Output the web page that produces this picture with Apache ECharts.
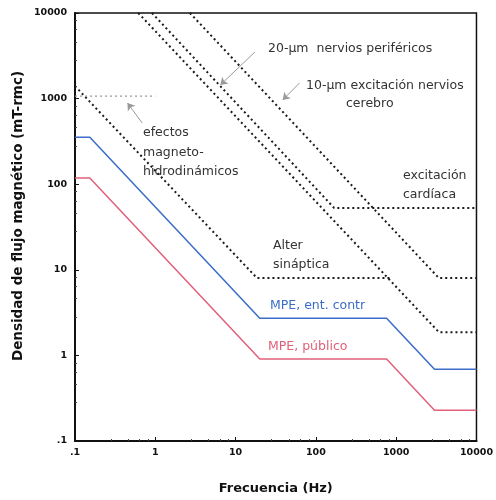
<!DOCTYPE html>
<html><head><meta charset="utf-8">
<script src="https://cdn.jsdelivr.net/npm/echarts@6/dist/echarts.min.js"></script>
<style>html,body{margin:0;padding:0;background:#fff}#c{width:496px;height:500px}</style>
</head><body><div id="c"></div>
<script>
// Tick labels
const xTickLabels = ['.1', '1', '10', '100', '1000', '10000'];
const yTickLabels = ['.1', '1', '10', '100', '1000', '10000'];
const tickValues = [0.1, 1, 10, 100, 1000, 10000];

// MPE, público (mT) vs frequency (Hz)
const mpePublicoFreq = [0.1, 0.153, 20, 759, 3000, 10000];
const mpePublicoB = [118, 118, 0.905, 0.905, 0.229, 0.229];

// MPE, entorno controlado
const mpeControlFreq = [0.1, 0.153, 20, 759, 3000, 10000];
const mpeControlB = [353, 353, 2.71, 2.71, 0.687, 0.687];

// Alteración sináptica
const alterFreq = [0.1, 18.5, 870];
const alterB = [1400, 8, 8];

// 20-µm nervios periféricos / excitación cardíaca
const cardiacaFreq = [0.91, 169, 10000];
const cardiacaB = [10000, 52.7, 52.7];

// lower nerve line
const nervioBajoFreq = [0.614, 3400, 10000];
const nervioBajoB = [10000, 1.87, 1.87];

// 10-µm excitación nervios cerebro
const nervioCerebroFreq = [2.7, 3400, 10000];
const nervioCerebroB = [10000, 8, 8];

// efectos magneto-hidrodinámicos
const mhdFreq = [0.1, 1];
const mhdB = [1070, 1070];

// annotation arrows (data coordinates: [freq, B])
const arrowFrom = [[0.687, 519], [17.4, 3500], [62.5, 1520]];
const arrowTo = [[0.45, 889], [6.46, 1443], [38.6, 964]];

const pairs = (f, b) => f.map((v, i) => [v, b[i]]);
const labelMap = (v) => { const i = tickValues.findIndex(t => Math.abs(Math.log10(t) - Math.log10(v)) < 1e-6); return i >= 0 ? xTickLabels[i] : ''; };
const labelMapY = (v) => { const i = tickValues.findIndex(t => Math.abs(Math.log10(t) - Math.log10(v)) < 1e-6); return i >= 0 ? yTickLabels[i] : ''; };

const dotted = { color: '#1a1a1a', width: 2, type: [2, 3] };
const txt = (t, x, y, color, extra) => ({ type: 'text', x, y, style: Object.assign({ text: t, fill: color || '#333', font: '12.5px "DejaVu Sans"', textVerticalAlign: 'middle' }, extra || {}) });

const chart = echarts.init(document.getElementById('c'), null, { renderer: 'canvas' });
chart.setOption({
  animation: false,
  backgroundColor: '#fff',
  grid: { left: 75, right: 15, top: 13, bottom: 59, show: true, borderColor: '#111', borderWidth: 1.5, backgroundColor: 'transparent' },
  xAxis: {
    type: 'log', logBase: 10, min: 0.1, max: 10000,
    axisLine: { show: true, lineStyle: { color: '#111', width: 2 } },
    axisTick: { show: true, inside: true, length: 4, lineStyle: { color: '#111' } },
    minorTick: { show: true, splitNumber: 5, length: 2, lineStyle: { color: '#444' } },
    splitLine: { show: false },
    axisLabel: { formatter: labelMap, margin: 7, color: '#111', fontFamily: 'DejaVu Sans', fontWeight: 'bold', fontSize: 9.5 },
    name: 'Frecuencia (Hz)', nameLocation: 'middle', nameGap: 41,
    nameTextStyle: { fontFamily: 'DejaVu Sans', fontWeight: 'bold', fontSize: 13, color: '#111' }
  },
  yAxis: {
    type: 'log', logBase: 10, min: 0.1, max: 10000,
    axisLine: { show: true, lineStyle: { color: '#111', width: 2 } },
    axisTick: { show: true, inside: true, length: 4, lineStyle: { color: '#111' } },
    minorTick: { show: true, splitNumber: 5, length: 2, lineStyle: { color: '#444' } },
    splitLine: { show: false },
    axisLabel: { formatter: labelMapY, margin: 8, color: '#111', fontFamily: 'DejaVu Sans', fontWeight: 'bold', fontSize: 9.5 }
  },
  graphic: [
    { type: 'text', x: 18, y: 216, rotation: Math.PI / 2, style: { text: 'Densidad de flujo magnético (mT-rmc)', font: 'bold 13.5px "DejaVu Sans"', fill: '#111', textAlign: 'center', textVerticalAlign: 'middle' } },
    txt('20-µm  nervios periféricos', 268, 49),
    txt('10-µm excitación nervios', 306, 86),
    txt('cerebro', 346, 104),
    txt('excitación', 403, 176),
    txt('cardíaca', 403, 195),
    txt('Alter', 273, 246),
    txt('sináptica', 273, 265),
    txt('efectos', 143, 133),
    txt('magneto-', 143, 153),
    txt('hidrodinámicos', 143, 172),
    txt('MPE, ent. contr', 270, 306, '#3a6cc8'),
    txt('MPE, público', 268, 347, '#e0607a')
  ],
  series: [
    { name: 'MPE, público', type: 'line', data: pairs(mpePublicoFreq, mpePublicoB), showSymbol: false, lineStyle: { color: '#e0607a', width: 1.5 }, z: 3 },
    { name: 'MPE, ent. contr', type: 'line', data: pairs(mpeControlFreq, mpeControlB), showSymbol: false, lineStyle: { color: '#3a6cc8', width: 1.5 }, z: 3 },
    { name: 'Alter sináptica', type: 'line', data: pairs(alterFreq, alterB), showSymbol: false, lineStyle: dotted },
    { name: '20-µm nervios periféricos', type: 'line', data: pairs(cardiacaFreq, cardiacaB), showSymbol: false, lineStyle: dotted },
    { name: 'nervios', type: 'line', data: pairs(nervioBajoFreq, nervioBajoB), showSymbol: false, lineStyle: dotted },
    { name: '10-µm excitación nervios cerebro', type: 'line', data: pairs(nervioCerebroFreq, nervioCerebroB), showSymbol: false, lineStyle: dotted },
    { name: 'efectos magneto-hidrodinámicos', type: 'line', data: pairs(mhdFreq, mhdB), showSymbol: false, lineStyle: { color: '#999', width: 1.2, type: [2, 3] },
      markLine: {
        silent: true, symbol: ['none', 'arrow'], symbolSize: 7, label: { show: false },
        lineStyle: { color: '#999', width: 1, type: 'solid' },
        data: arrowFrom.map((a, i) => [{ coord: a }, { coord: arrowTo[i] }])
      } }
  ]
});
</script>
</body></html>
